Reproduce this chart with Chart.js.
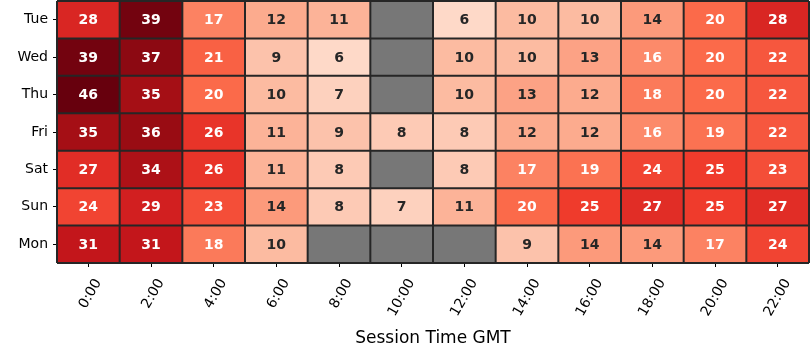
<!DOCTYPE html>
<html>
<head>
<meta charset="utf-8">
<script src="https://cdn.jsdelivr.net/npm/chart.js@4"></script>
<style>
  html, body { margin: 0; padding: 0; background: #fff; }
  #wrap { width: 810px; height: 360px; }
</style>
</head>
<body>
<div id="wrap"><canvas id="heat"></canvas></div>
<script>
const days = ['Tue', 'Wed', 'Thu', 'Fri', 'Sat', 'Sun', 'Mon'];
const hours = ['0:00', '2:00', '4:00', '6:00', '8:00', '10:00', '12:00', '14:00', '16:00', '18:00', '20:00', '22:00'];

// sessions per cell, null = no data (grey)
const tue = [28, 39, 17, 12, 11, null, 6, 10, 10, 14, 20, 28];
const wed = [39, 37, 21, 9, 6, null, 10, 10, 13, 16, 20, 22];
const thu = [46, 35, 20, 10, 7, null, 10, 13, 12, 18, 20, 22];
const fri = [35, 36, 26, 11, 9, 8, 8, 12, 12, 16, 19, 22];
const sat = [27, 34, 26, 11, 8, null, 8, 17, 19, 24, 25, 23];
const sun = [24, 29, 23, 14, 8, 7, 11, 20, 25, 27, 25, 27];
const mon = [31, 31, 18, 10, null, null, null, 9, 14, 14, 17, 24];
const rows = [tue, wed, thu, fri, sat, sun, mon];

// Reds colormap
const reds = ['#fff5f0', '#fee0d2', '#fcbba1', '#fc9272', '#fb6a4a', '#ef3b2c', '#cb181d', '#a50f15', '#67000d'];
const vmin = 0, vmax = 40;

function hexToRgb(h) {
  return [parseInt(h.slice(1, 3), 16), parseInt(h.slice(3, 5), 16), parseInt(h.slice(5, 7), 16)];
}

function cellColor(v) {
  if (v === null) return '#777777';
  let t = (v - vmin) / (vmax - vmin);
  t = Math.max(0, Math.min(1, t));
  const pos = t * (reds.length - 1);
  const i = Math.min(Math.floor(pos), reds.length - 2);
  const f = pos - i;
  const a = hexToRgb(reds[i]), b = hexToRgb(reds[i + 1]);
  const c = a.map((x, k) => Math.round(x + (b[k] - x) * f));
  return `rgb(${c[0]},${c[1]},${c[2]})`;
}

// Cell edges + numbers inside each cell
const cellLabels = {
  id: 'cellLabels',
  afterDatasetsDraw(chart) {
    const ctx = chart.ctx;
    const xs = chart.scales.x, ys = chart.scales.y;
    const area = chart.chartArea;
    ctx.save();
    ctx.strokeStyle = '#262626';
    ctx.lineWidth = 2;
    ctx.beginPath();
    for (let j = 0; j <= hours.length; j++) {
      const x = xs.getPixelForValue(j - 0.5);
      ctx.moveTo(x, area.top);
      ctx.lineTo(x, area.bottom);
    }
    for (let i = 0; i <= days.length; i++) {
      const y = ys.getPixelForValue(i - 0.5);
      ctx.moveTo(area.left, y);
      ctx.lineTo(area.right, y);
    }
    ctx.stroke();

    ctx.font = 'bold 14px "DejaVu Sans"';
    ctx.textAlign = 'center';
    ctx.textBaseline = 'middle';
    chart.data.datasets.forEach((ds, i) => {
      const meta = chart.getDatasetMeta(i);
      meta.data.forEach((el, j) => {
        const v = rows[i][j];
        if (v === null) return;
        const p = el.getCenterPoint();
        ctx.fillStyle = v >= 15 ? '#ffffff' : '#262626';
        ctx.fillText(String(v), p.x, p.y + 1);
      });
    });
    ctx.restore();
  }
};

const datasets = rows.map((row, i) => ({
  label: days[i],
  data: row.map(() => [i - 0.5, i + 0.5]),
  backgroundColor: row.map(cellColor),
  borderWidth: 0,
  inflateAmount: 0,
  barPercentage: 1,
  categoryPercentage: 1,
  grouped: false
}));

Chart.defaults.font.family = '"DejaVu Sans"';
Chart.defaults.color = '#000';

new Chart(document.getElementById('heat').getContext('2d'), {
  type: 'bar',
  data: { labels: hours, datasets: datasets },
  options: {
    responsive: true,
    maintainAspectRatio: false,
    animation: false,
    layout: { padding: { top: 1, right: 1 } },
    plugins: {
      legend: { display: false },
      tooltip: { enabled: false }
    },
    scales: {
      x: {
        type: 'category',
        offset: true,
        grid: { offset: false, drawOnChartArea: false, drawTicks: true, tickLength: 4, color: '#000' },
        border: { display: false },
        ticks: {
          font: { size: 14 },
          minRotation: 60,
          maxRotation: 60,
          labelOffset: 10,
          padding: 9
        },
        title: {
          display: true,
          text: 'Session Time GMT',
          font: { size: 17 },
          padding: { top: 0, bottom: 11 }
        },
        afterFit(scale) { scale.height = 97; scale.paddingRight = 0; }
      },
      y: {
        type: 'linear',
        reverse: true,
        min: -0.5,
        max: 6.5,
        grid: { drawOnChartArea: false, drawTicks: true, tickLength: 4, color: '#000' },
        border: { display: false },
        afterBuildTicks(scale) {
          scale.ticks = days.map((d, i) => ({ value: i }));
        },
        ticks: {
          font: { size: 14 },
          padding: 5,
          callback: (v) => days[v]
        },
        afterFit(scale) { scale.width = 57; scale.paddingTop = 0; scale.paddingBottom = 0; }
      }
    }
  },
  plugins: [cellLabels]
});
</script>
</body>
</html>
